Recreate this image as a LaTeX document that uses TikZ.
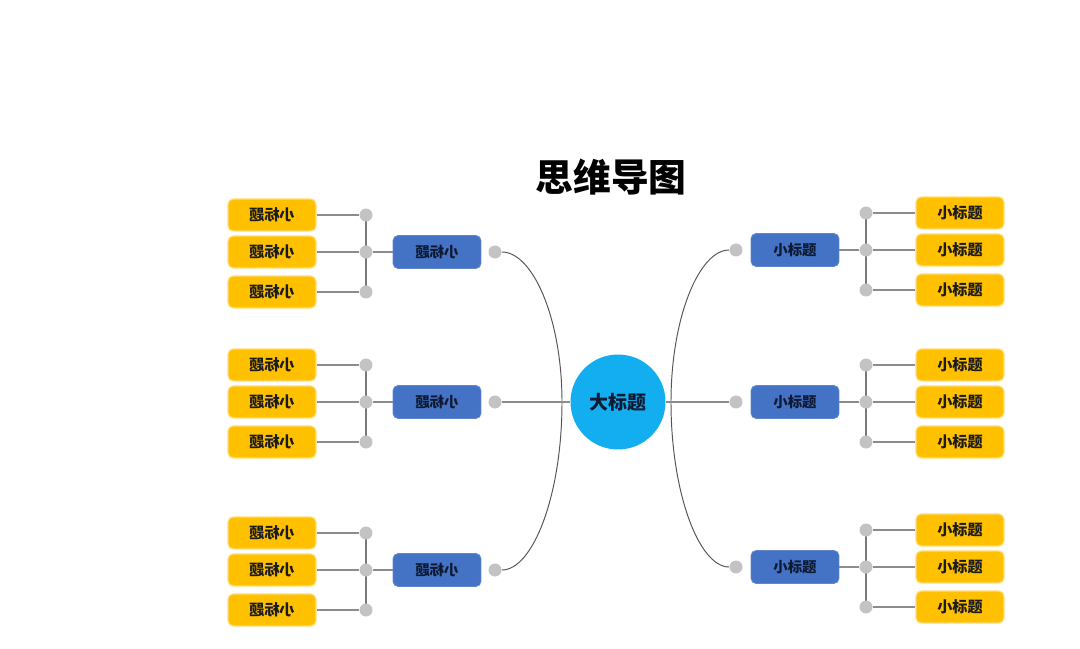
\documentclass[tikz,border=0pt]{standalone}
\usepackage{fontspec}
\usepackage{graphicx}
\setmainfont{Noto Sans CJK SC}
\usetikzlibrary{positioning,backgrounds}
\definecolor{cYellow}{HTML}{FFC000}
\definecolor{cBlue}{HTML}{4472C4}
\definecolor{cCyan}{HTML}{12AEEF}
\definecolor{cDot}{HTML}{C3C3C3}
\definecolor{cLine}{HTML}{8C8C8C}
\definecolor{cStem}{HTML}{7A7A7A}
\definecolor{cCurve}{HTML}{555555}
\definecolor{cInk}{HTML}{1C1C1C}
\definecolor{cNavy}{HTML}{0E1A33}
\newcommand{\mirr}[1]{\scalebox{-1}[1]{#1}}
\tikzset{
  leafbox/.style={draw=cYellow!55!white,fill=cYellow,rounded corners=3pt,line width=0.7pt,minimum width=1.76cm,minimum height=0.64cm,inner sep=0pt,font=\fontsize{8.6}{10}\selectfont\bfseries,text=cInk},
  subbox/.style={draw=cBlue!85!white,fill=cBlue,rounded corners=3pt,line width=0.5pt,minimum width=1.76cm,minimum height=0.66cm,inner sep=0pt,font=\fontsize{8.2}{10}\selectfont\bfseries,text=cNavy},
  hubnode/.style={circle,fill=cCyan,minimum size=1.9cm,inner sep=0pt,font=\fontsize{10.8}{12}\selectfont\bfseries,text=cNavy},
  knob/.style={circle,fill=cDot,minimum size=0.26cm,inner sep=0pt},
  twig/.style={draw=cLine,line width=0.75pt},
  stem/.style={draw=cStem,line width=1.1pt},
  arcline/.style={draw=cCurve,line width=0.55pt},
}
\begin{document}
\begin{tikzpicture}[x=0.02cm,y=-0.02cm]
  \useasboundingbox (0,0) rectangle (1080,649);
  \node[font=\fontsize{21.5}{26}\selectfont\bfseries] (title) at (611,177) {思维导图};
  \node[hubnode] (hub) at (618,402) {大标题};
  \coordinate (lmid) at (562,402);
  \coordinate (rmid) at (671,402);
  % left side (mirrored labels)
  \foreach \g/\y in {1/252,2/402,3/570} {
    \node[subbox] (L\g) at (437,\y) {\mirr{小标题}};
    \node[knob] (Lk\g) at (495,\y) {};
    \foreach \r/\d in {a/-37,b/0,c/40} {
      \node[leafbox] (Ll\g\r) at (272,\y+\d) {\mirr{小标题}};
      \node[knob] (Lj\g\r) at (366,\y+\d) {};
      \begin{scope}[on background layer]
        \draw[twig] (Ll\g\r) -- (Lj\g\r);
      \end{scope}
    }
    \begin{scope}[on background layer]
      \draw[stem] (Lj\g a.center) -- (Lj\g c.center);
      \draw[twig] (Lj\g b) -- (L\g);
    \end{scope}
  }
  % right side
  \foreach \g/\y in {1/250,2/402,3/567} {
    \node[subbox] (R\g) at (795,\y) {小标题};
    \node[knob] (Rk\g) at (736,\y) {};
    \foreach \r/\d in {a/-37,b/0,c/40} {
      \node[leafbox] (Rl\g\r) at (960,\y+\d) {小标题};
      \node[knob] (Rj\g\r) at (866,\y+\d) {};
      \begin{scope}[on background layer]
        \draw[twig] (Rj\g\r) -- (Rl\g\r);
      \end{scope}
    }
    \begin{scope}[on background layer]
      \draw[stem] (Rj\g a.center) -- (Rj\g c.center);
      \draw[twig] (R\g) -- (Rj\g b);
    \end{scope}
  }
  % links to the hub
  \draw[arcline] (Lk1) .. controls +(38,0) and +(0,-83) .. (lmid) .. controls +(0,93) and +(38,0) .. (Lk3);
  \draw[arcline] (Rk1) .. controls +(-37,0) and +(0,-84) .. (rmid) .. controls +(0,91) and +(-37,0) .. (Rk3);
  \draw[twig] (Lk2) -- (hub);
  \draw[twig] (hub) -- (Rk2);
\end{tikzpicture}
\end{document}
